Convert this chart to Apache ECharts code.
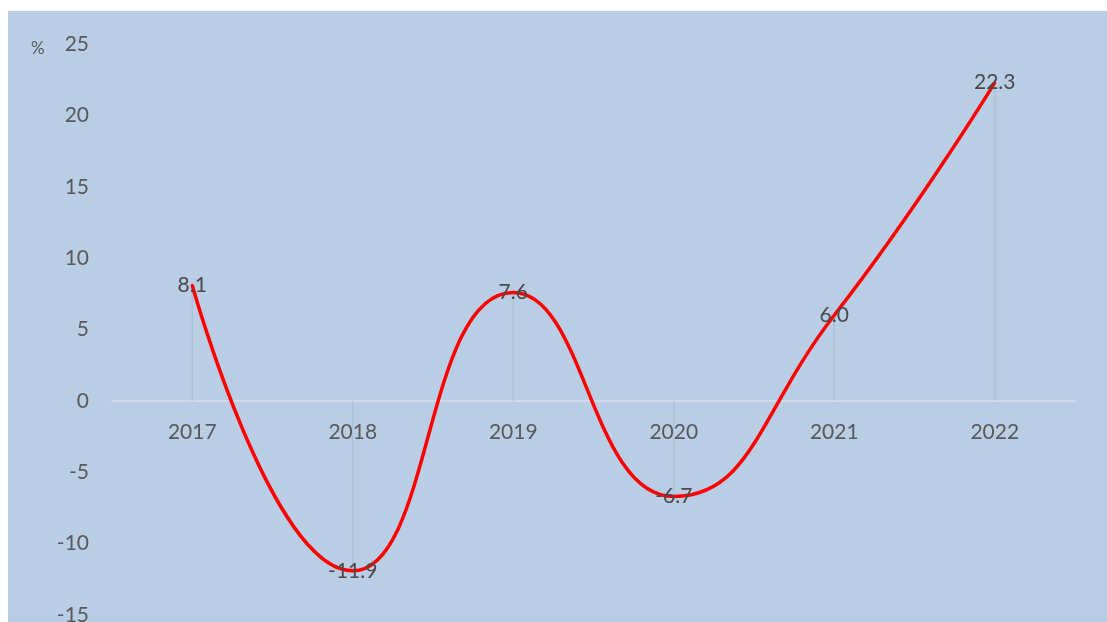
<!DOCTYPE html>
<html>
<head>
<meta charset="utf-8">
<script src="https://cdn.jsdelivr.net/npm/echarts@6/dist/echarts.min.js"></script>
<style>
html,body{margin:0;padding:0;background:#ffffff;}
#chart{width:1107px;height:622px;}
</style>
</head>
<body>
<div id="chart"></div>
<script>
const categories = ['2017', '2018', '2019', '2020', '2021', '2022'];
const growth = [8.1, -11.9, 7.6, -6.7, 6.0, 22.3];
const yUnit = '%';

const chart = echarts.init(document.getElementById('chart'));
const font = 'Lato, "Liberation Sans", sans-serif';
const gridTop = 44, gridBottom = 7, yMin = -15, yMax = 25;
const plotH = 622 - gridTop - gridBottom;
const zeroOffset = -(plotH * (0 - yMin) / (yMax - yMin));
chart.setOption({
  backgroundColor: '#ffffff',
  animation: false,
  graphic: [{
    type: 'rect', left: 8, top: 11, z: -10,
    shape: { width: 1099, height: 611 },
    style: { fill: '#b9cde5' }
  }, {
    type: 'text', left: 31, top: 40,
    style: { text: yUnit, fontSize: 17, fill: '#595959', fontFamily: font }
  }],
  grid: { left: 112, right: 32, top: gridTop, bottom: gridBottom, outerBoundsMode: 'none', containLabel: false },
  xAxis: {
    type: 'category',
    data: categories,
    boundaryGap: true,
    offset: zeroOffset,
    axisLine: { onZero: false, lineStyle: { color: '#d6e0ec', width: 1.5 } },
    axisTick: { show: false },
    axisLabel: { color: '#595959', fontSize: 21, fontFamily: font, margin: 21 }
  },
  yAxis: {
    type: 'value',
    min: yMin, max: yMax, interval: 5,
    axisLine: { show: false },
    axisTick: { show: false },
    splitLine: { show: false },
    axisLabel: { color: '#595959', fontSize: 21, fontFamily: font, margin: 23 }
  },
  series: [{
    type: 'bar',
    data: growth,
    barWidth: 1,
    itemStyle: { color: '#a9bbd0' },
    silent: true,
    z: 1
  }, {
    type: 'line',
    data: growth,
    smooth: 0.5,
    symbol: 'circle',
    symbolSize: 3,
    itemStyle: { color: '#ff0000' },
    lineStyle: { color: '#ff0000', width: 3.5 },
    label: {
      show: true,
      position: 'inside',
      color: '#4a4a4a',
      fontSize: 21,
      fontFamily: font,
      formatter: p => p.value.toFixed(1)
    },
    z: 3
  }]
});
</script>
</body>
</html>
